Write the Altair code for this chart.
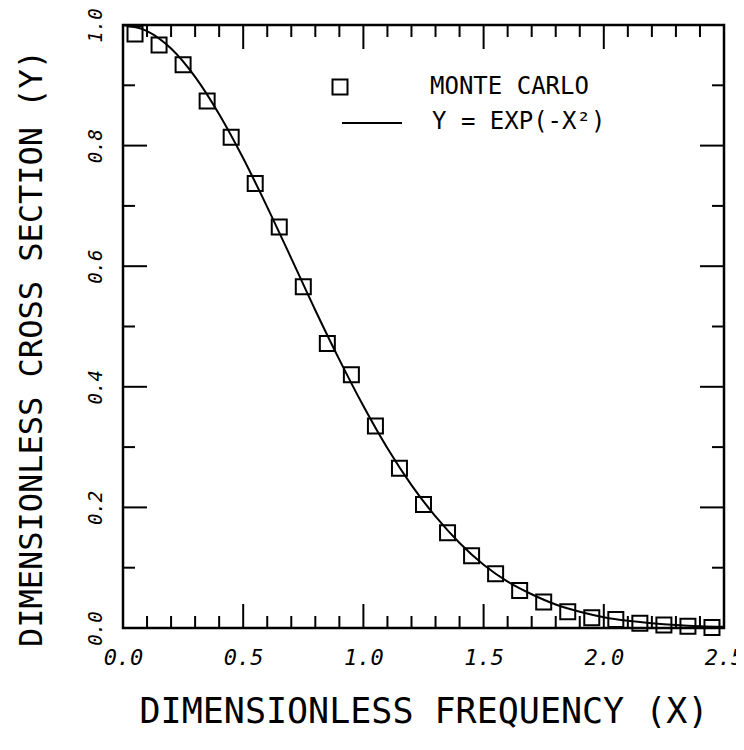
import altair as alt
import pandas as pd

# Monte Carlo points
mc_x = [0.05, 0.15, 0.25, 0.35, 0.45, 0.55, 0.65, 0.75, 0.85, 0.95,
        1.05, 1.15, 1.25, 1.35, 1.45, 1.55, 1.65, 1.75, 1.85, 1.95,
        2.05, 2.15, 2.25, 2.35, 2.45]
mc_y = [0.985, 0.967, 0.934, 0.874, 0.814, 0.737, 0.665, 0.566, 0.472, 0.420,
        0.335, 0.265, 0.205, 0.158, 0.120, 0.090, 0.062, 0.043, 0.027, 0.017,
        0.014, 0.008, 0.005, 0.003, 0.001]

# Curve Y = EXP(-X^2)
curve_x = [0.0, 0.1, 0.2, 0.3, 0.4, 0.5, 0.6, 0.7, 0.8, 0.9, 1.0, 1.1, 1.2,
           1.3, 1.4, 1.5, 1.6, 1.7, 1.8, 1.9, 2.0, 2.1, 2.2, 2.3, 2.4, 2.5]
curve_y = [1.000, 0.990, 0.961, 0.914, 0.852, 0.779, 0.698, 0.613, 0.527,
           0.445, 0.368, 0.298, 0.237, 0.185, 0.141, 0.105, 0.077, 0.056,
           0.039, 0.027, 0.018, 0.012, 0.008, 0.005, 0.003, 0.002]

x_labels = [0.0, 0.5, 1.0, 1.5, 2.0, 2.5]
y_labels = [0.0, 0.2, 0.4, 0.6, 0.8, 1.0]
x_major = [0.5, 1.0, 1.5, 2.0]
x_minor = [0.1, 0.2, 0.3, 0.4, 0.6, 0.7, 0.8, 0.9, 1.1, 1.2, 1.3, 1.4,
           1.6, 1.7, 1.8, 1.9, 2.1, 2.2, 2.3, 2.4]
y_major = [0.2, 0.4, 0.6, 0.8]
y_minor = [0.1, 0.3, 0.5, 0.7, 0.9]

legend_labels = ["MONTE CARLO", "Y = EXP(-X²)"]

W, H = 601, 603
MAJ, MIN = 24, 12
FONT = "DejaVu Sans Mono"

xs = alt.Scale(domain=[0, 2.5], nice=False, zero=False)
ys = alt.Scale(domain=[0, 1], nice=False, zero=False)

x_axis = alt.Axis(values=x_labels, format=".1f", title="DIMENSIONLESS FREQUENCY (X)",
                  labelPadding=19, titlePadding=26, labelFlush=False,
                  labelFontSize=22, titleFontSize=35)
y_axis = alt.Axis(values=y_labels, format=".1f", title="DIMENSIONLESS CROSS SECTION (Y)",
                  labelAngle=270, labelAlign="center", labelBaseline="bottom",
                  labelPadding=18, titlePadding=38, labelFlush=False,
                  labelFontSize=19, titleFontSize=32, titleY=323)

mc = pd.DataFrame({"x": mc_x, "y": mc_y})
cv = pd.DataFrame({"x": curve_x, "y": curve_y})

points = alt.Chart(mc).mark_point(shape="square", filled=False, size=225,
                                  stroke="black", strokeWidth=2, opacity=1).encode(
    x=alt.X("x:Q", scale=xs, axis=x_axis),
    y=alt.Y("y:Q", scale=ys, axis=y_axis),
)
line = alt.Chart(cv).mark_line(color="black", strokeWidth=2, interpolate="monotone").encode(
    x=alt.X("x:Q", scale=xs, axis=x_axis),
    y=alt.Y("y:Q", scale=ys, axis=y_axis),
)

def xticks(vals, length):
    d = pd.DataFrame({"v": vals})
    bot = alt.Chart(d).mark_rule(color="black", strokeWidth=2).encode(
        x=alt.X("v:Q", scale=xs, axis=x_axis), y=alt.value(H), y2=alt.value(H - length))
    top = alt.Chart(d).mark_rule(color="black", strokeWidth=2).encode(
        x=alt.X("v:Q", scale=xs, axis=x_axis), y=alt.value(0), y2=alt.value(length))
    return [bot, top]

def yticks(vals, length):
    d = pd.DataFrame({"v": vals})
    left = alt.Chart(d).mark_rule(color="black", strokeWidth=2).encode(
        y=alt.Y("v:Q", scale=ys, axis=y_axis), x=alt.value(0), x2=alt.value(length))
    right = alt.Chart(d).mark_rule(color="black", strokeWidth=2).encode(
        y=alt.Y("v:Q", scale=ys, axis=y_axis), x=alt.value(W), x2=alt.value(W - length))
    return [left, right]

# manual legend
leg_sq = alt.Chart(pd.DataFrame({"t": [legend_labels[0]]})).mark_point(
    shape="square", filled=False, size=225, stroke="black", strokeWidth=2, opacity=1
).encode(x=alt.value(217), y=alt.value(62))
leg_ln = alt.Chart(pd.DataFrame({"t": [legend_labels[1]]})).mark_rule(
    color="black", strokeWidth=2).encode(x=alt.value(219), x2=alt.value(279), y=alt.value(98))
leg_t1 = alt.Chart(pd.DataFrame({"t": [legend_labels[0]]})).mark_text(
    font=FONT, fontSize=24, align="left", baseline="middle", color="black"
).encode(text="t:N", x=alt.value(307), y=alt.value(62))
leg_t2 = alt.Chart(pd.DataFrame({"t": [legend_labels[1]]})).mark_text(
    font=FONT, fontSize=24, align="left", baseline="middle", color="black"
).encode(text="t:N", x=alt.value(309), y=alt.value(97))

layers = [line, points] + xticks(x_major, MAJ) + xticks(x_minor, MIN) \
    + yticks(y_major, MAJ) + yticks(y_minor, MIN) + [leg_sq, leg_ln, leg_t1, leg_t2]

chart = alt.layer(*layers).properties(
    width=W, height=H,
    autosize=alt.AutoSizeParams(type="none"),
    padding={"left": 115, "top": 17, "right": 12, "bottom": 114},
).configure_view(stroke="black", strokeWidth=2.5).configure_axis(
    grid=False, domain=False, ticks=False, tickSize=0,
    labelFont=FONT, labelFontStyle="italic", labelColor="black",
    titleFont=FONT, titleFontWeight="normal", titleColor="black",
)

chart.save("out.html", embed_options={"renderer": "svg", "actions": False})
